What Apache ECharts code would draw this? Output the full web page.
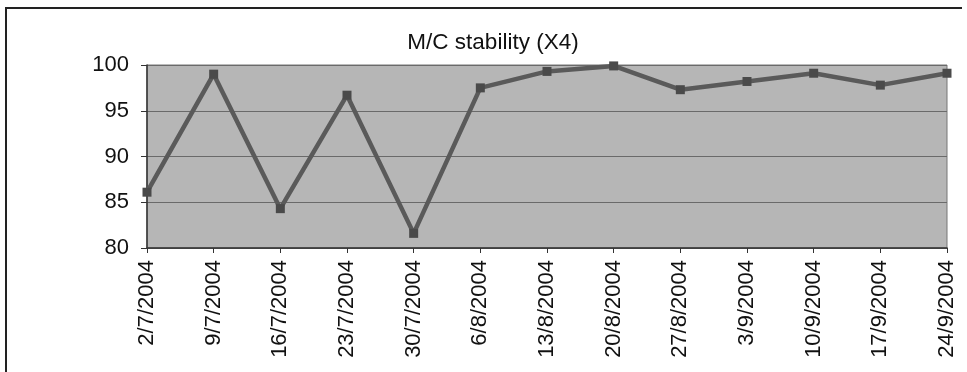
<!DOCTYPE html>
<html>
<head>
<meta charset="utf-8">
<style>html,body{margin:0;padding:0;background:#fff;}#c{width:967px;height:372px;}</style>
<script src="https://cdn.jsdelivr.net/npm/echarts@6/dist/echarts.min.js"></script>
</head>
<body>
<div id="c"></div>
<script>
const categories = ['2/7/2004','9/7/2004','16/7/2004','23/7/2004','30/7/2004','6/8/2004','13/8/2004','20/8/2004','27/8/2004','3/9/2004','10/9/2004','17/9/2004','24/9/2004'];
const values = [86.1, 99.0, 84.3, 96.7, 81.6, 97.5, 99.3, 99.9, 97.3, 98.2, 99.1, 97.8, 99.1];
const yTicks = [80, 85, 90, 95, 100];

const chart = echarts.init(document.getElementById('c'), null, {renderer: 'canvas'});
const font = '"Liberation Sans", Arial, sans-serif';
chart.setOption({
  animation: false,
  backgroundColor: '#ffffff',
  title: {
    text: 'M/C stability (X4)',
    left: 488, top: 26, textAlign: 'center',
    textStyle: {fontFamily: font, fontSize: 22.5, fontWeight: 'normal', color: '#111'}
  },
  grid: {left: 147, right: 20, top: 65, bottom: 124, show: true, backgroundColor: '#b6b6b6', borderColor: '#777', borderWidth: 1},
  xAxis: {
    type: 'category', data: categories, boundaryGap: false,
    axisLine: {lineStyle: {color: '#333', width: 1.5}},
    axisTick: {show: true, length: 5, lineStyle: {color: '#333'}},
    axisLabel: {rotate: 90, margin: 12, fontFamily: font, fontSize: 22, color: '#111'},
    splitLine: {show: false}
  },
  yAxis: {
    type: 'value', min: yTicks[0], max: yTicks[yTicks.length-1], interval: 5,
    axisLine: {show: true, lineStyle: {color: '#333', width: 1.5}},
    axisTick: {show: true, length: 6, lineStyle: {color: '#333'}},
    axisLabel: {margin: 18, fontFamily: font, fontSize: 22, color: '#111'},
    splitLine: {show: true, lineStyle: {color: '#6a6a6a', width: 1}}
  },
  series: [{
    type: 'line', data: values,
    symbol: 'rect', symbolSize: 9,
    lineStyle: {color: '#5a5a5a', width: 4.5},
    itemStyle: {color: '#4a4a4a'}
  }],
  graphic: [{
    type: 'polyline', silent: true,
    shape: {points: [[6, 372], [6, 8], [962, 8]]},
    style: {stroke: '#222', lineWidth: 2, fill: null}
  }]
});
</script>
</body>
</html>
